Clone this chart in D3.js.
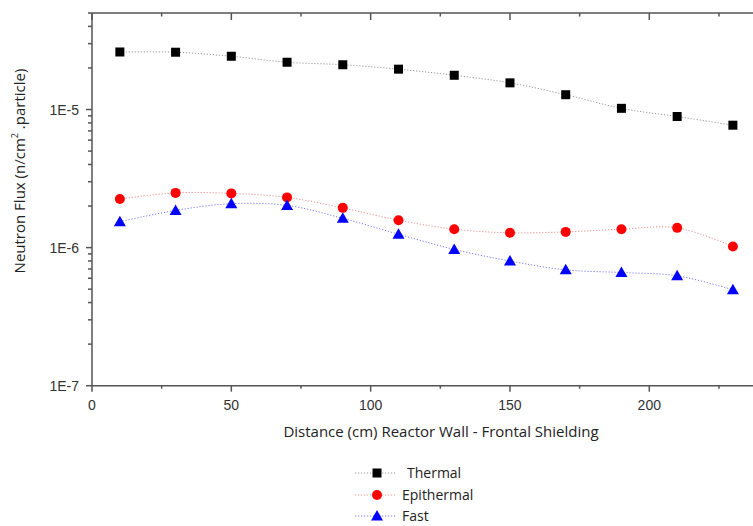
<!DOCTYPE html>
<html><head><meta charset="utf-8">
<script src="https://cdn.jsdelivr.net/npm/d3@7"></script>
<style>body{margin:0;background:#fff;} svg{display:block;}</style>
</head><body>
<svg id="chart" width="753" height="526"></svg>
<script>
const distances = [10,30,50,70,90,110,130,150,170,190,210,230];
const thermal = [2.61e-5,2.60e-5,2.43e-5,2.20e-5,2.11e-5,1.96e-5,1.77e-5,1.56e-5,1.28e-5,1.02e-5,8.9e-6,7.7e-6];
const epithermal = [2.25e-6,2.49e-6,2.47e-6,2.31e-6,1.94e-6,1.58e-6,1.36e-6,1.28e-6,1.30e-6,1.36e-6,1.39e-6,1.02e-6];
const fast = [1.54e-6,1.86e-6,2.08e-6,2.02e-6,1.63e-6,1.25e-6,9.7e-7,8.0e-7,6.9e-7,6.6e-7,6.25e-7,4.95e-7];
const seriesNames = ["Thermal","Epithermal","Fast"];
const xTicks = [0,50,100,150,200,250];
const xTickLabels = ["0","50","100","150","200",""];
const yTickLabels = ["1E-7","1E-6","1E-5"];
const yTickValues = [1e-7,1e-6,1e-5];

(function(){
const svg = d3.select("#chart");
const mLeft = 92, mTop = 13, mBottom = 385.7;
const x = d3.scaleLinear().domain([0,250]).range([mLeft, mLeft + 250*2.7865]);
const y = d3.scaleLog().domain([1e-7,5e-5]).range([mBottom, mTop]);
const axisColor = "#555";
const tickFont = "Liberation Sans, Arial, sans-serif";
const titleFont = "'Open Sans', sans-serif";

const series = [
  {name: seriesNames[0], values: thermal, color:"#000", line:"#999", shape:"square"},
  {name: seriesNames[1], values: epithermal, color:"#f00", line:"#f29090", shape:"circle"},
  {name: seriesNames[2], values: fast, color:"#0000ff", line:"#7a7aff", shape:"triangle"}
];

function marker(g, shape, color, cx, cy){
  if(shape==="square") g.append("rect").attr("x",cx-4.5).attr("y",cy-4.5).attr("width",9).attr("height",9).attr("fill",color);
  else if(shape==="circle") g.append("circle").attr("cx",cx).attr("cy",cy).attr("r",5).attr("fill",color);
  else g.append("path").attr("d",`M${cx},${cy-6}L${cx+6},${cy+4.5}L${cx-6},${cy+4.5}Z`).attr("fill",color);
}

const line = d3.line().x(d=>x(d[0])).y(d=>y(d[1])).curve(d3.curveCatmullRom.alpha(0.5));
series.forEach(s=>{
  const pts = distances.map((d,i)=>[d,s.values[i]]);
  svg.append("path").attr("d",line(pts)).attr("fill","none").attr("stroke",s.line)
    .attr("stroke-width",1).attr("stroke-dasharray","1.2,1.8");
});
series.forEach(s=>{
  const g = svg.append("g");
  distances.forEach((d,i)=>marker(g,s.shape,s.color,x(d),y(s.values[i])));
});

svg.append("line").attr("x1",mLeft).attr("x2",753).attr("y1",mBottom).attr("y2",mBottom).attr("stroke",axisColor).attr("stroke-width",1.5);
svg.append("line").attr("x1",mLeft).attr("x2",753).attr("y1",mTop).attr("y2",mTop).attr("stroke",axisColor).attr("stroke-width",1.5);
svg.append("line").attr("x1",mLeft).attr("x2",mLeft).attr("y1",mTop).attr("y2",mBottom).attr("stroke",axisColor).attr("stroke-width",1.5);

const xMinor = d3.range(25,251,50);
xTicks.forEach((t,i)=>{
  svg.append("line").attr("x1",x(t)).attr("x2",x(t)).attr("y1",mBottom).attr("y2",mBottom+6).attr("stroke",axisColor).attr("stroke-width",1.5);
  svg.append("line").attr("x1",x(t)).attr("x2",x(t)).attr("y1",mTop).attr("y2",mTop+7).attr("stroke",axisColor).attr("stroke-width",1.5);
  if(xTickLabels[i]) svg.append("text").attr("x",x(t)).attr("y",mBottom+24).attr("text-anchor","middle")
    .attr("font-family",tickFont).attr("font-size",14).attr("fill","#333").text(xTickLabels[i]);
});
xMinor.forEach(t=>{
  svg.append("line").attr("x1",x(t)).attr("x2",x(t)).attr("y1",mBottom).attr("y2",mBottom+3).attr("stroke",axisColor).attr("stroke-width",1.5);
  svg.append("line").attr("x1",x(t)).attr("x2",x(t)).attr("y1",mTop).attr("y2",mTop+3.5).attr("stroke",axisColor).attr("stroke-width",1.5);
});

yTickValues.forEach((v,i)=>{
  svg.append("line").attr("x1",mLeft-6).attr("x2",mLeft).attr("y1",y(v)).attr("y2",y(v)).attr("stroke",axisColor).attr("stroke-width",1.5);
  svg.append("text").attr("x",mLeft-13).attr("y",y(v)+5).attr("text-anchor","end")
    .attr("font-family",tickFont).attr("font-size",14).attr("fill","#333").text(yTickLabels[i]);
});
y.ticks().filter(v=>!yTickValues.some(m=>Math.abs(m-v)/m<1e-6) && v<=5.0001e-5).forEach(v=>{
  svg.append("line").attr("x1",mLeft-4).attr("x2",mLeft).attr("y1",y(v)).attr("y2",y(v)).attr("stroke",axisColor).attr("stroke-width",1.5);
});

svg.append("text").attr("x",441).attr("y",437).attr("text-anchor","middle")
  .attr("font-family",titleFont).attr("font-size",15).attr("fill","#222")
  .text("Distance (cm) Reactor Wall - Frontal Shielding");
const yt = svg.append("text").attr("transform","translate(25,171) rotate(-90)").attr("text-anchor","middle")
  .attr("font-family",titleFont).attr("font-size",15).attr("fill","#222");
yt.append("tspan").text("Neutron Flux (n/cm");
yt.append("tspan").attr("font-size",9).attr("dy",-7).text("2");
yt.append("tspan").attr("dy",7).text(" .particle)");

const legY = [473,495,516];
series.forEach((s,i)=>{
  const g = svg.append("g");
  g.append("line").attr("x1",355).attr("x2",396).attr("y1",legY[i]).attr("y2",legY[i])
    .attr("stroke",s.line).attr("stroke-width",1).attr("stroke-dasharray","1.2,1.8");
  marker(g,s.shape,s.color,377,legY[i]);
  g.append("text").attr("x",i===0?407:402).attr("y",legY[i]+5)
    .attr("font-family",titleFont).attr("font-size",14).attr("fill","#222").text(s.name);
});
})();
</script>
</body></html>
